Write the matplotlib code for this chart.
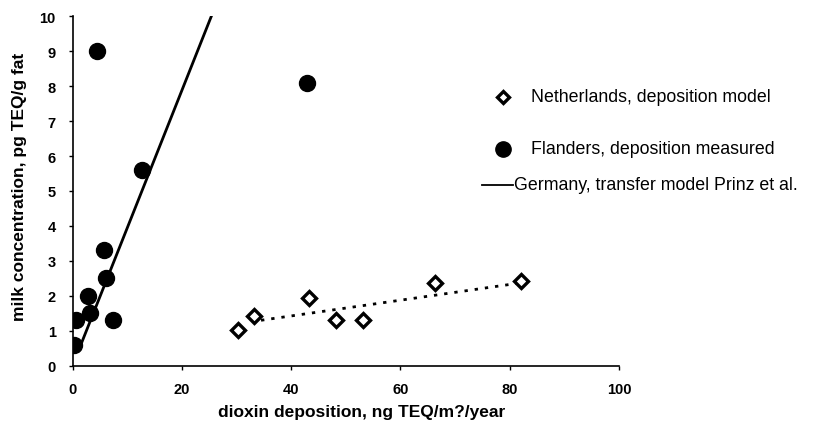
import matplotlib
matplotlib.use('Agg')
import matplotlib.pyplot as plt
from matplotlib.lines import Line2D

# Flanders, deposition measured
fl_x = [4.5, 43.0, 12.8, 5.8, 6.2, 2.9, 3.2, 7.5, 0.6, 0.2]
fl_y = [9.0, 8.1, 5.6, 3.3, 2.5, 2.0, 1.5, 1.3, 1.3, 0.6]

# Netherlands, deposition model
nl_x = [30.3, 33.2, 43.2, 48.2, 53.2, 66.4, 82.1]
nl_y = [1.03, 1.43, 1.94, 1.32, 1.32, 2.36, 2.41]
nl_trend_x = [34.5, 82.0]
nl_trend_y = [1.30, 2.37]

# Germany, transfer model Prinz et al.
de_x = [1.4, 25.4]
de_y = [0.55, 10.0]

legend_labels = ['Netherlands, deposition model',
                 'Flanders, deposition measured',
                 'Germany, transfer model Prinz et al.']

plt.rcParams['font.family'] = ['Liberation Sans', 'DejaVu Sans']

W, H = 818, 431
fig = plt.figure(figsize=(W / 100, H / 100), dpi=100)
ax = fig.add_axes([72.5 / W, 64.3 / H, 546.5 / W, 349.4 / H])

def px(x, y):
    # pixel position (from top-left) -> figure fraction
    return x / W, 1 - y / H

ax.plot(de_x, de_y, '-', color='black', linewidth=2, zorder=2)
ax.plot(nl_trend_x, nl_trend_y, linestyle=(0, (1.2, 2.5)), color='black', linewidth=2, zorder=2)
ax.plot(fl_x, fl_y, 'o', color='black', markersize=11.5, zorder=3)
ax.plot(nl_x, nl_y, 'D', markerfacecolor='white', markeredgecolor='black',
        markeredgewidth=2.4, markersize=7.5, zorder=4)

ax.set_xlim(0, 100)
ax.set_ylim(0, 10)
ax.set_xticks(range(0, 101, 20))
ax.set_yticks(range(0, 11))
ax.spines['top'].set_visible(False)
ax.spines['right'].set_visible(False)
for s in ('left', 'bottom'):
    ax.spines[s].set_linewidth(1.2)
ax.tick_params(axis='both', direction='out', length=3, width=1, labelsize=10.5)
ax.tick_params(axis='y', pad=9)
ax.tick_params(axis='x', pad=8.5)
for lab in ax.get_xticklabels() + ax.get_yticklabels():
    lab.set_fontweight('bold')

ax.set_xlabel('dioxin deposition, ng TEQ/m?/year', fontsize=12.5, fontweight='bold')
ax.xaxis.set_label_coords((361.5 - 72.5) / 546.5, -(412 - 366.7) / 349.4)
ax.xaxis.label.set_va('center')
ax.set_ylabel('milk concentration, pg TEQ/g fat', fontsize=12.5, fontweight='bold')
ax.yaxis.set_label_coords(-(72.5 - 20) / 546.5, (366.7 - 186.5) / 349.4)
ax.yaxis.label.set_va('center')

# legend, placed by hand as in the original
x0, y0 = px(503, 98)
fig.add_artist(Line2D([x0], [y0], marker='D', linestyle='none', markerfacecolor='white',
                      markeredgecolor='black', markeredgewidth=2.4, markersize=6.5,
                      transform=fig.transFigure))
x0, y0 = px(503, 150)
fig.add_artist(Line2D([x0], [y0], marker='o', linestyle='none', color='black',
                      markersize=11, transform=fig.transFigure))
xa, ya = px(482, 185.5)
xb, _ = px(513, 185.5)
fig.add_artist(Line2D([xa, xb], [ya, ya], color='black', linewidth=1.3,
                      transform=fig.transFigure))
for (tx, ty), label in zip([(531, 98), (531, 150), (514, 185.5)], legend_labels):
    fx, fy = px(tx, ty)
    fig.text(fx, fy, label, fontsize=12.8, ha='left', va='center')

fig.savefig('out.png', dpi=100)
